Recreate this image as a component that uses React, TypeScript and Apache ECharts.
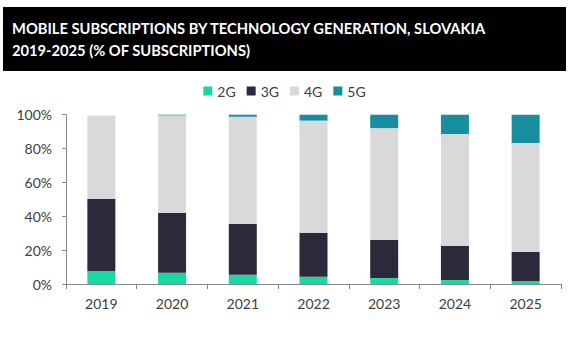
import React, { useEffect, useRef } from "react";
import * as echarts from "echarts";

const years = ["2019", "2020", "2021", "2022", "2023", "2024", "2025"];
const g2 = [7.7, 6.7, 5.5, 4.3, 3.5, 2.4, 1.8];
const g3 = [42.5, 35.3, 29.9, 26.0, 22.5, 20.0, 17.1];
const g4 = [49.3, 57.6, 63.4, 66.2, 66.1, 66.2, 64.4];
const g5 = [0, 0.4, 1.2, 3.5, 7.9, 11.4, 16.7];
const yTicks = [0, 20, 40, 60, 80, 100];

const titleLine1 = "MOBILE SUBSCRIPTIONS BY TECHNOLOGY GENERATION, SLOVAKIA";
const titleLine2 = "2019-2025 (% OF SUBSCRIPTIONS)";

const FONT = "Lato";

export default function App() {
  const ref = useRef<HTMLDivElement>(null);
  useEffect(() => {
    document.body.style.margin = "0";
    const chart = echarts.init(ref.current!, null, { renderer: "svg" });
    const mk = (name: string, data: number[], color: string) => ({
      name,
      type: "bar",
      stack: "total",
      data,
      barWidth: 28,
      itemStyle: { color },
    });
    chart.setOption({
      animation: false,
      textStyle: { fontFamily: FONT },
      graphic: [
        { type: "rect", shape: { x: 3, y: 7, width: 563, height: 64 }, style: { fill: "#000000" } },
        {
          type: "text",
          x: 12,
          y: 28,
          style: { text: titleLine1, fill: "#ffffff", font: `bold 14.7px ${FONT}`, verticalAlign: "middle" },
        },
        {
          type: "text",
          x: 12,
          y: 50,
          style: { text: titleLine2, fill: "#ffffff", font: `bold 14.7px ${FONT}`, verticalAlign: "middle" },
        },
      ],
      legend: {
        top: 79,
        left: "center",
        itemWidth: 9,
        itemHeight: 9,
        itemGap: 11,
        icon: "rect",
        textStyle: { fontSize: 14, color: "#404040", fontFamily: FONT },
        data: ["2G", "3G", "4G", "5G"],
      },
      grid: { left: 66, right: 8, top: 114.7, bottom: 55 },
      xAxis: {
        type: "category",
        data: years,
        axisLine: { lineStyle: { color: "#898989" } },
        axisTick: { show: true, length: 5, alignWithLabel: false, lineStyle: { color: "#898989" } },
        axisLabel: { fontSize: 14, color: "#404040", margin: 12, fontFamily: FONT },
      },
      yAxis: {
        type: "value",
        min: 0,
        max: 100,
        interval: 20,
        axisLine: { show: true, lineStyle: { color: "#898989" } },
        axisTick: { show: true, length: 4, lineStyle: { color: "#898989" } },
        splitLine: { show: false },
        axisLabel: {
          fontSize: 14,
          color: "#404040",
          margin: 14,
          fontFamily: FONT,
          formatter: (v: number) => (yTicks.includes(v) ? `${v}%` : ""),
        },
      },
      series: [
        mk("2G", g2, "#17d9a3"),
        mk("3G", g3, "#2b2a3b"),
        mk("4G", g4, "#d9d9d9"),
        mk("5G", g5, "#168e9f"),
      ],
    });
    return () => chart.dispose();
  }, []);
  return <div ref={ref} style={{ width: 569, height: 339 }} />;
}
